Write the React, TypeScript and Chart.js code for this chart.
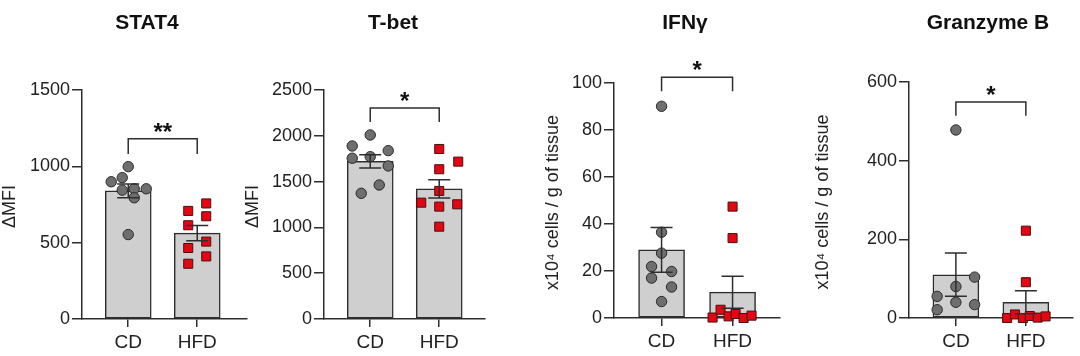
import React, { useEffect, useRef } from "react";
import { Chart, registerables } from "chart.js";

Chart.register(...registerables);

// ---------------- DATA ----------------
const GROUPS = ["CD", "HFD"];
const PANEL_TITLES = ["STAT4", "T-bet", "IFNγ", "Granzyme B"];
const Y_TITLES = ["ΔMFI", "ΔMFI", "x10⁴ cells / g of tissue", "x10⁴ cells / g of tissue"];
const SIG_LABELS = ["**", "*", "*", "*"];
const Y_MAX = [1500, 2500, 100, 600];
const Y_STEP = [500, 500, 20, 200];

const STAT4_CD = [998, 926, 899, 844, 853, 853, 794, 553];
const STAT4_HFD = [757, 708, 673, 614, 507, 465, 410, 362];
const STAT4_MEAN = [840, 562];
const STAT4_SEM = [45, 50];

const TBET_CD = [2009, 1889, 1838, 1755, 1772, 1671, 1463, 1372];
const TBET_HFD = [1856, 1718, 1635, 1398, 1270, 1252, 1227, 1008];
const TBET_MEAN = [1720, 1420];
const TBET_SEM = [72, 100];

const IFNG_CD = [90.1, 36.5, 27.6, 21.9, 17.0, 19.8, 13.2, 7.0];
const IFNG_HFD = [47.4, 34.0, 0.2, 3.5, 0.7, 1.7, 0, 1.0];
const IFNG_MEAN = [29, 11];
const IFNG_SEM = [9.5, 6.8];

const GZMB_CD = [478, 104, 80, 55, 40, 34, 21];
const GZMB_HFD = [222, 91, 0, 9, 0, 5, 1, 4];
const GZMB_MEAN = [110, 40];
const GZMB_SEM = [55, 29];

// ---------------- LAYOUT (positions / styles) ----------------
const X_MIN = -0.67;
const FONT = "'Liberation Sans', Arial, Helvetica, sans-serif";

const LAYOUT = [
  { left: 82, right: 247, top: 90, bottom: 319, titleX: 147, yTitleX: 10, bracket: 1180, leg: 1080,
    jitterCD: [0, -6, -17, -6, 6, 18, 6, 0], jitterHFD: [9, -9, 9, -9, 9, -9, 9, -9] },
  { left: 324, right: 485, top: 90, bottom: 319, titleX: 393, yTitleX: 253, bracket: 2304, leg: 2151,
    jitterCD: [0, -18, 18, -18, 0, 18, 9, -9], jitterHFD: [0, 19, 0, 0, -18, 18, 0, 0] },
  { left: 614, right: 780, top: 83, bottom: 318, titleX: 685, yTitleX: 553, bracket: 102.4, leg: 96.5,
    jitterCD: [0, 0, 0, -10, -10, 10, 10, 0], jitterHFD: [0, 0, -20, -12, -4, 3, 11, 19] },
  { left: 909, right: 1075, top: 82, bottom: 318, titleX: 988, yTitleX: 823, bracket: 549, leg: 514,
    jitterCD: [0, 19, 0, -19, 0, 19, -19], jitterHFD: [0, 0, -19, -11, -3, 4, 12, 20] },
];
const SPACING = [69, 69, 71, 71];

const PANELS = [
  { cd: STAT4_CD, hfd: STAT4_HFD, mean: STAT4_MEAN, sem: STAT4_SEM },
  { cd: TBET_CD, hfd: TBET_HFD, mean: TBET_MEAN, sem: TBET_SEM },
  { cd: IFNG_CD, hfd: IFNG_HFD, mean: IFNG_MEAN, sem: IFNG_SEM },
  { cd: GZMB_CD, hfd: GZMB_HFD, mean: GZMB_MEAN, sem: GZMB_SEM },
];

const W = 1080;
const H = 356;
const Y_AXIS_W = 60;
const DARK = "#2e2e2e";

const overlayPlugin = {
  id: "overlay",
  afterDatasetsDraw(chart: any, _args: any, opts: any) {
    const { ctx } = chart;
    const x = chart.scales.x;
    const y = chart.scales.y;
    const i = opts.index;
    const L = LAYOUT[i];
    const P = PANELS[i];
    ctx.save();
    ctx.strokeStyle = DARK;
    ctx.lineWidth = 1.5;
    // error bars (mean ± SEM)
    P.mean.forEach((m: number, g: number) => {
      const cx = x.getPixelForValue(g);
      const yHi = y.getPixelForValue(m + P.sem[g]);
      const yLo = y.getPixelForValue(Math.max(m - P.sem[g], 0));
      ctx.beginPath();
      ctx.moveTo(cx, yLo);
      ctx.lineTo(cx, yHi);
      ctx.moveTo(cx - 11, yHi);
      ctx.lineTo(cx + 11, yHi);
      ctx.moveTo(cx - 11, yLo);
      ctx.lineTo(cx + 11, yLo);
      ctx.stroke();
    });
    // significance bracket
    const x0 = x.getPixelForValue(0);
    const x1 = x.getPixelForValue(1);
    const yb = y.getPixelForValue(L.bracket);
    const yl = y.getPixelForValue(L.leg);
    ctx.beginPath();
    ctx.moveTo(x0, yl);
    ctx.lineTo(x0, yb);
    ctx.lineTo(x1, yb);
    ctx.lineTo(x1, yl);
    ctx.stroke();
    ctx.fillStyle = "#111";
    ctx.font = `bold 24px ${FONT}`;
    ctx.textAlign = "center";
    ctx.textBaseline = "alphabetic";
    ctx.fillText(SIG_LABELS[i], (x0 + x1) / 2, yb + 1);
    // panel title
    ctx.font = `bold 21px ${FONT}`;
    ctx.textBaseline = "middle";
    ctx.fillText(PANEL_TITLES[i], L.titleX, 23);
    // y-axis title
    ctx.save();
    ctx.translate(L.yTitleX, (y.top + y.bottom) / 2 + 2);
    ctx.rotate(-Math.PI / 2);
    ctx.font = `18px ${FONT}`;
    ctx.fillStyle = "#222";
    ctx.fillText(Y_TITLES[i], 0, 0);
    ctx.restore();
    ctx.restore();
  },
};

function Panel({ index }: { index: number }) {
  const ref = useRef<HTMLCanvasElement>(null);
  useEffect(() => {
    const L = LAYOUT[index];
    const P = PANELS[index];
    const sp = SPACING[index];
    const xMax = X_MIN + (L.right - L.left) / sp;
    const chart = new Chart(ref.current as HTMLCanvasElement, {
      type: "bar",
      data: {
        datasets: [
          {
            type: "bar",
            data: P.mean.map((m: number, g: number) => ({ x: g, y: m })),
            backgroundColor: "#cfcfcf",
            borderColor: DARK,
            borderWidth: 1.5,
            borderSkipped: false,
            barThickness: 46,
            order: 3,
          } as any,
          {
            type: "scatter",
            data: P.cd.map((v: number, k: number) => ({ x: 0 + L.jitterCD[k] / sp, y: v })),
            pointStyle: "circle",
            pointRadius: 5.2,
            backgroundColor: "#6e6e6e",
            borderColor: "#2a2a2a",
            borderWidth: 1,
            clip: false,
            order: 1,
          } as any,
          {
            type: "scatter",
            data: P.hfd.map((v: number, k: number) => ({ x: 1 + L.jitterHFD[k] / sp, y: v })),
            pointStyle: "rect",
            pointRadius: 6.4,
            backgroundColor: "#e30613",
            borderColor: "#4a1010",
            borderWidth: 1,
            clip: false,
            order: 1,
          } as any,
        ],
      },
      options: {
        responsive: false,
        animation: false,
        events: [],
        layout: {
          padding: { left: L.left - Y_AXIS_W, right: W - L.right, top: L.top, bottom: 0 },
        },
        plugins: {
          legend: { display: false },
          tooltip: { enabled: false },
          title: { display: false },
          overlay: { index },
        } as any,
        scales: {
          x: {
            type: "linear",
            offset: false,
            min: X_MIN,
            max: xMax,
            afterBuildTicks: (s: any) => {
              s.ticks = GROUPS.map((_, g) => ({ value: g }));
            },
            afterFit: (s: any) => {
              s.height = H - L.bottom;
            },
            ticks: {
              callback: (v: any) => GROUPS[v] ?? "",
              font: { family: FONT, size: 19 },
              color: "#222",
              padding: 4,
              maxRotation: 0,
              autoSkip: false,
            },
            grid: { offset: false, drawOnChartArea: false, drawTicks: true, tickLength: 8, color: DARK, lineWidth: 1.5 },
            border: { display: true, color: DARK, width: 1.5 },
          },
          y: {
            type: "linear",
            min: 0,
            max: Y_MAX[index],
            afterFit: (s: any) => {
              s.width = Y_AXIS_W;
            },
            ticks: {
              stepSize: Y_STEP[index],
              callback: (v: any) => String(v),
              font: { family: FONT, size: 18 },
              color: "#222",
              padding: 2,
            },
            grid: { drawOnChartArea: false, drawTicks: true, tickLength: 10, color: DARK, lineWidth: 1.5 },
            border: { display: true, color: DARK, width: 1.5 },
          },
        },
      } as any,
      plugins: [overlayPlugin as any],
    });
    return () => chart.destroy();
  }, [index]);
  return (
    <canvas
      ref={ref}
      width={W}
      height={H}
      style={{ position: "absolute", left: 0, top: 0, width: W, height: H }}
    />
  );
}

export default function App() {
  return (
    <div style={{ position: "absolute", left: 0, top: 0, width: W, height: H, background: "#fff" }}>
      {PANELS.map((_, i) => (
        <Panel key={i} index={i} />
      ))}
    </div>
  );
}
